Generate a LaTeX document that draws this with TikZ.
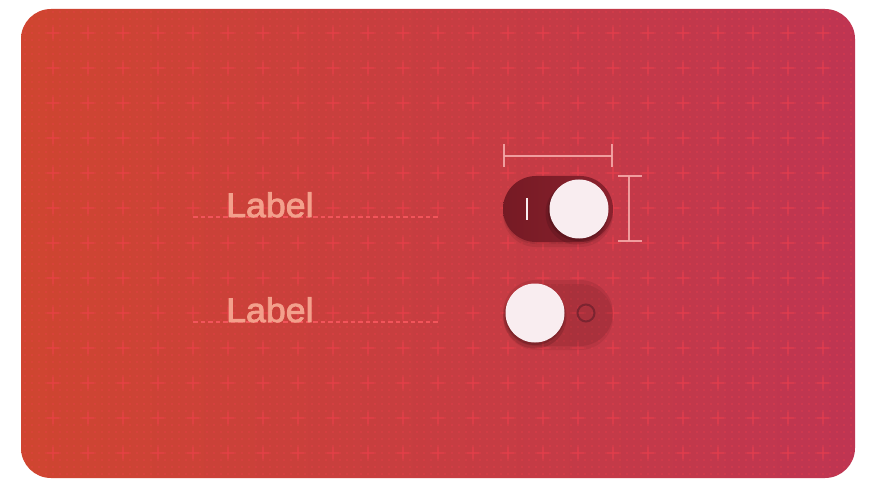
\documentclass[tikz,border=0pt]{standalone}
\usepackage{fontspec}
\setmainfont{Liberation Sans}
\newfontfamily\labfont[FakeStretch=1.05,FakeBold=2.5]{Liberation Sans}
\usetikzlibrary{shapes.misc}
\definecolor{bgL}{HTML}{CF4530}
\definecolor{bgM}{HTML}{DA3532}
\definecolor{bgR}{HTML}{BF3552}
\definecolor{gridc}{HTML}{F5404E}
\definecolor{labc}{HTML}{F3A08C}
\definecolor{basec}{HTML}{F2545A}
\definecolor{dimc}{HTML}{F5A8A8}
\definecolor{knobc}{HTML}{F9EDF0}
\definecolor{trackA}{HTML}{761A24}
\definecolor{trackB}{HTML}{8A222E}
\definecolor{ringc}{HTML}{7C2430}
\tikzset{
  plusmark/.style={draw=gridc, opacity=0.45, line width=1.5pt},
  dotrow/.style={draw=gridc, opacity=0.25, line width=1.2pt, dash pattern=on 1.2pt off 5.8pt},
  labeltext/.style={inner sep=0pt, anchor=base west, text=labc, font=\labfont\fontsize{34}{40}\selectfont},
  baseline/.style={draw=basec, line width=1.2pt, dash pattern=on 4.5pt off 3pt},
  dimline/.style={draw=dimc, line width=1.5pt, opacity=0.9},
  trackon/.style={rounded rectangle, minimum width=110pt, minimum height=66pt, inner sep=0pt, left color=trackA, right color=trackB},
  trackoff/.style={rounded rectangle, minimum width=110pt, minimum height=66pt, inner sep=0pt, fill=black, fill opacity=0.08},
  knob/.style={circle, minimum size=59pt, inner sep=0pt, fill=knobc},
  shadowround/.style={rounded rectangle, minimum width=110pt, minimum height=66pt, inner sep=0pt, fill=black},
  knobshadow/.style={circle, minimum size=60pt, inner sep=0pt, fill=black},
}
\begin{document}
\begin{tikzpicture}[x=1pt,y=-1pt]
\useasboundingbox (0,0) rectangle (875,489);
\fill[white] (0,0) rectangle (875,489);
\begin{scope}
  \clip[rounded corners=30pt] (21,9) rectangle (855,478);
  \shade[left color=bgL, middle color=bgM, right color=bgR] (21,9) rectangle (855,478);
  \foreach \yy in {12,19,...,477} {
    \draw[dotrow] (24.4,\yy) -- (856,\yy);
  }
  \foreach \xx in {53,88,...,830} {
    \foreach \yy in {33,68,...,470} {
      \draw[plusmark] (\xx-6,\yy) -- (\xx+6,\yy) (\xx,\yy-6) -- (\xx,\yy+6);
    }
  }
\end{scope}

% baselines and labels
\coordinate (b1s) at (193,217); \coordinate (b1e) at (438,217);
\coordinate (b2s) at (193,322); \coordinate (b2e) at (438,322);
\draw[baseline] (b1s) -- (b1e);
\draw[baseline] (b2s) -- (b2e);
\node[labeltext] (lab1) at (226,217) {Label};
\node[labeltext] (lab2) at (226,322) {Label};

% toggle on
\node[shadowround, fill opacity=0.08] at (558,214) {};
\node[shadowround, fill opacity=0.08] at (558,211) {};
\node[trackon] (t1) at (558,209) {};
\node[knobshadow, fill opacity=0.12, minimum size=63pt] at (577,213) {};
\node[knobshadow, fill opacity=0.15] at (578,211) {};
\node[knob] (k1) at (579,209) {};
\coordinate (i1) at (527,198); \coordinate (i2) at (527,220);
\draw[knobc, line width=2pt] (i1) -- (i2);

% toggle off
\node[shadowround, fill opacity=0.06] at (558,317) {};
\node[trackoff] (t2) at (558,313) {};
\node[knobshadow, fill opacity=0.12, minimum size=63pt] at (535,317) {};
\node[knobshadow, fill opacity=0.15] at (535,315) {};
\node[knob] (k2) at (535,313) {};
\node[circle, draw=ringc, line width=2pt, minimum size=17pt, inner sep=0pt] (o2) at (586,313) {};

% dimension lines
\coordinate (hA) at (504,156); \coordinate (hB) at (612,156);
\draw[dimline] (hA) -- (hB);
\draw[dimline] ([yshift=-11pt]hA) -- ([yshift=12pt]hA);
\draw[dimline] ([yshift=-11pt]hB) -- ([yshift=12pt]hB);
\coordinate (vA) at (629,176); \coordinate (vB) at (629,241);
\draw[dimline] (vA) -- (vB);
\draw[dimline] ([xshift=-11pt]vA) -- ([xshift=13pt]vA);
\draw[dimline] ([xshift=-11pt]vB) -- ([xshift=13pt]vB);
\end{tikzpicture}
\end{document}
